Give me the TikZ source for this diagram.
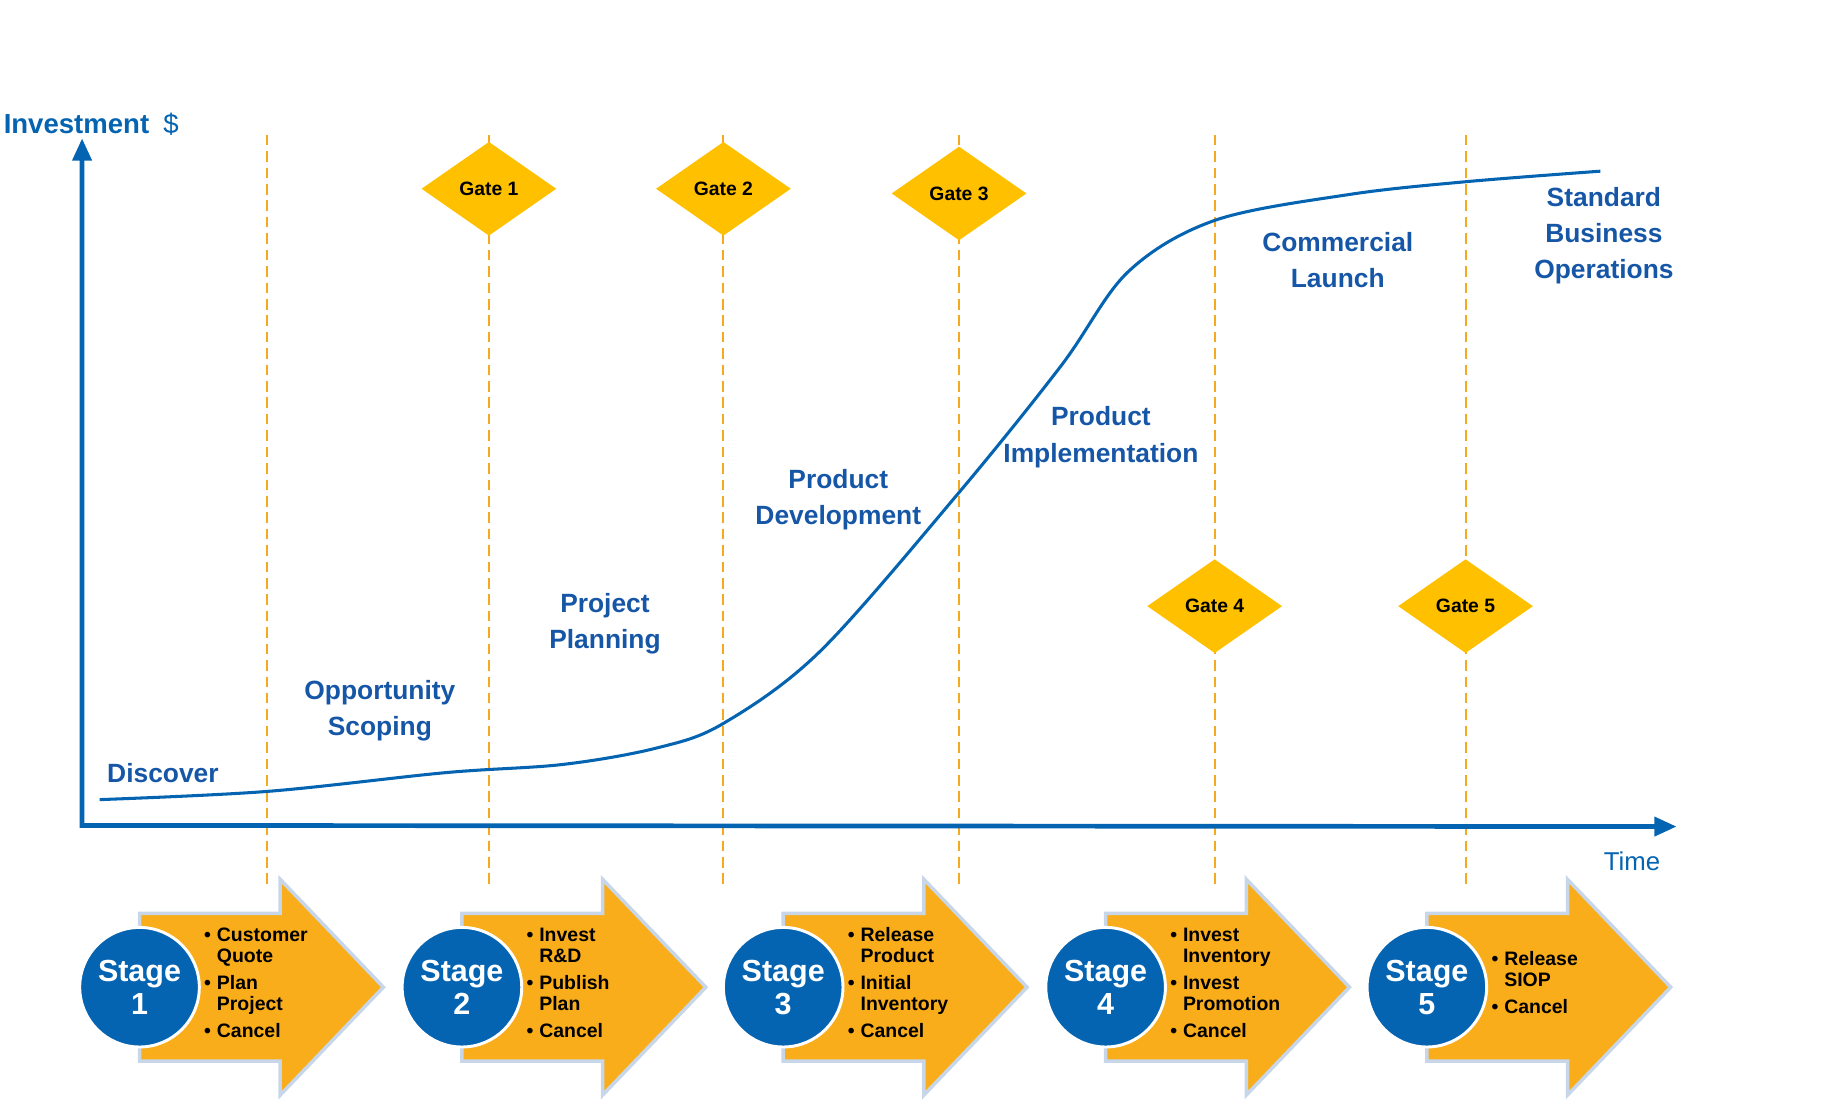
\documentclass[tikz,border=0pt]{standalone}
\usepackage{fontspec}
\setmainfont{Liberation Sans}
\usetikzlibrary{arrows.meta,shapes.geometric}

\definecolor{axisblue}{RGB}{5,100,177}
\definecolor{labelblue}{RGB}{22,86,166}
\definecolor{gateyellow}{RGB}{255,192,0}
\definecolor{arroworange}{RGB}{249,173,26}
\definecolor{dashorange}{RGB}{246,168,30}
\definecolor{glowblue}{RGB}{200,214,234}

\begin{document}
\begin{tikzpicture}[x=1pt,y=-1pt,
    phase/.style={text=labelblue,font=\fontsize{22.5}{31}\selectfont\bfseries,align=center},
    gateline/.style={draw=dashorange,line width=1.8pt,dash pattern=on 9pt off 5pt},
    axis/.style={draw=axisblue,line width=4pt,line join=miter},
    stagearrow/.style={fill=arroworange,draw=glowblue,line width=3pt,line join=miter},
    stagelist/.style={anchor=west,inner sep=0pt,font=\fontsize{16.6}{18.5}\selectfont\bfseries}]
    \useasboundingbox (0,0) rectangle (1560,951);

    \begin{scope}
        \coordinate (o) at (70,704);
        \coordinate (ytop) at (70,118);
        \coordinate (xend) at (1430,705);
        \coordinate (t0) at (228,115);
        \coordinate (b0) at (228,757);
        \coordinate (t1) at (417,115);
        \coordinate (b1) at (417,757);
        \coordinate (t2) at (617,115);
        \coordinate (b2) at (617,757);
        \coordinate (t3) at (818,115);
        \coordinate (b3) at (818,757);
        \coordinate (t4) at (1036,115);
        \coordinate (b4) at (1036,757);
        \coordinate (t5) at (1250,115);
        \coordinate (b5) at (1250,757);
    \end{scope}

    \path (t0) edge[gateline] (b0);
    \path (t1) edge[gateline] (b1);
    \path (t2) edge[gateline] (b2);
    \path (t3) edge[gateline] (b3);
    \path (t4) edge[gateline] (b4);
    \path (t5) edge[gateline] (b5);

    \draw[axisblue,line width=2.6pt] plot[smooth,tension=0.55] coordinates {
        (85,682) (228,675) (380,659) (480,652) (560,638) (617,617)
        (700,555) (818,420) (905,312) (962,232) (1036,188)
        (1150,166) (1250,155) (1365,146)};

    \draw[axis,{Stealth[length=19pt,width=16pt,inset=0pt]}-{Stealth[length=19pt,width=16pt,inset=0pt]}]
        (ytop) -- (o) -- (xend);

    \node[anchor=west,inner sep=0pt,text=axisblue,font=\fontsize{23.5}{26}\selectfont] (ylabel) at (3,106)
        {\bfseries Investment\hspace{12pt}\mdseries\$};
    \node[text=axisblue,font=\fontsize{22}{26}\selectfont] (xlabel) at (1392,735) {Time};

    \begin{scope}[every node/.style={phase}]
        \node (discover) at (139,659) {Discover};
        \node (scoping) at (324,606) {Opportunity\\Scoping};
        \node (planning) at (516,532) {Project\\Planning};
        \node (development) at (715,426) {Product\\Development};
        \node (implementation) at (939,373) {Product\\Implementation};
        \node (launch) at (1141,222) {Commercial\\Launch};
        \node (operations) at (1368,201) {Standard\\Business\\Operations};
    \end{scope}

    \begin{scope}[every node/.style={diamond,fill=gateyellow,minimum width=115pt,minimum height=80pt,
                  inner sep=0pt,font=\fontsize{16.5}{18}\selectfont\bfseries}]
        \node (g1) at (417,161) {Gate 1};
        \node (g2) at (617,161) {Gate 2};
        \node (g3) at (818,165) {Gate 3};
        \node (g4) at (1036,517) {Gate 4};
        \node (g5) at (1250,517) {Gate 5};
    \end{scope}

    \draw[stagearrow] (119,779) -- ++(120,0) -- ++(0,-29) -- ++(88,92) -- ++(-88,92) -- ++(0,-29) -- ++(-120,0) -- cycle;
    \draw[stagearrow] (394,779) -- ++(120,0) -- ++(0,-29) -- ++(88,92) -- ++(-88,92) -- ++(0,-29) -- ++(-120,0) -- cycle;
    \draw[stagearrow] (668,779) -- ++(120,0) -- ++(0,-29) -- ++(88,92) -- ++(-88,92) -- ++(0,-29) -- ++(-120,0) -- cycle;
    \draw[stagearrow] (943,779) -- ++(120,0) -- ++(0,-29) -- ++(88,92) -- ++(-88,92) -- ++(0,-29) -- ++(-120,0) -- cycle;
    \draw[stagearrow] (1217,779) -- ++(120,0) -- ++(0,-29) -- ++(88,92) -- ++(-88,92) -- ++(0,-29) -- ++(-120,0) -- cycle;

    \begin{scope}[every node/.style={circle,fill=axisblue,draw=white,line width=2.5pt,minimum size=102pt,
                  inner sep=0pt,text=white,align=center,font=\fontsize{26}{28}\selectfont\bfseries}]
        \node (s1) at (119,842) {Stage\\1};
        \node (s2) at (394,842) {Stage\\2};
        \node (s3) at (668,842) {Stage\\3};
        \node (s4) at (943,842) {Stage\\4};
        \node (s5) at (1217,842) {Stage\\5};
    \end{scope}

    \begin{scope}[every node/.style={stagelist}]
        \node (l1) at (174,840) {\begin{tabular}{@{}l@{\hspace{5pt}}l@{}}
            \textbullet & Customer\\ & Quote\\[4pt] \textbullet & Plan\\ & Project\\[4pt] \textbullet & Cancel\end{tabular}};
        \node (l2) at (449,840) {\begin{tabular}{@{}l@{\hspace{5pt}}l@{}}
            \textbullet & Invest\\ & R\&D\\[4pt] \textbullet & Publish\\ & Plan\\[4pt] \textbullet & Cancel\end{tabular}};
        \node (l3) at (723,840) {\begin{tabular}{@{}l@{\hspace{5pt}}l@{}}
            \textbullet & Release\\ & Product\\[4pt] \textbullet & Initial\\ & Inventory\\[4pt] \textbullet & Cancel\end{tabular}};
        \node (l4) at (998,840) {\begin{tabular}{@{}l@{\hspace{5pt}}l@{}}
            \textbullet & Invest\\ & Inventory\\[4pt] \textbullet & Invest\\ & Promotion\\[4pt] \textbullet & Cancel\end{tabular}};
        \node (l5) at (1272,840) {\begin{tabular}{@{}l@{\hspace{5pt}}l@{}}
            \textbullet & Release\\ & SIOP\\[4pt] \textbullet & Cancel\end{tabular}};
    \end{scope}
\end{tikzpicture}
\end{document}
